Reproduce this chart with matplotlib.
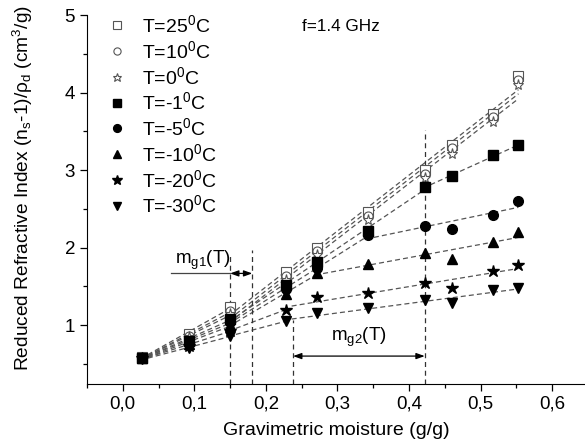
import matplotlib
matplotlib.use("Agg")
import matplotlib.pyplot as plt
import numpy as np
from matplotlib.ticker import MultipleLocator, FuncFormatter

plt.rcParams['font.family'] = ['Liberation Sans', 'DejaVu Sans']
plt.rcParams['mathtext.fontset'] = 'custom'
plt.rcParams['mathtext.rm'] = 'Liberation Sans'
plt.rcParams['mathtext.it'] = 'Liberation Sans:italic'
plt.rcParams['mathtext.default'] = 'regular'

# ---- data ----
moisture = [0.027, 0.093, 0.150, 0.228, 0.272, 0.343, 0.422, 0.460, 0.518, 0.553]
labels = ['T=25$^{0}$C', 'T=10$^{0}$C', 'T=0$^{0}$C', 'T=-1$^{0}$C',
          'T=-5$^{0}$C', 'T=-10$^{0}$C', 'T=-20$^{0}$C', 'T=-30$^{0}$C']
t25 = [0.59, 0.89, 1.23, 1.68, 2.00, 2.46, 3.00, 3.33, 3.73, 4.22]
t10 = [0.58, 0.86, 1.18, 1.63, 1.95, 2.41, 2.95, 3.28, 3.68, 4.16]
t0 = [0.58, 0.84, 1.14, 1.58, 1.90, 2.36, 2.90, 3.21, 3.62, 4.10]
tm1 = [0.58, 0.80, 1.08, 1.52, 1.82, 2.22, 2.78, 2.93, 3.19, 3.32]
tm5 = [0.58, 0.78, 1.04, 1.46, 1.74, 2.16, 2.28, 2.24, 2.42, 2.60]
tm10 = [0.57, 0.76, 1.00, 1.40, 1.67, 1.79, 1.93, 1.85, 2.07, 2.20]
tm20 = [0.57, 0.73, 0.93, 1.20, 1.36, 1.42, 1.54, 1.48, 1.70, 1.77]
tm30 = [0.56, 0.70, 0.86, 1.05, 1.15, 1.22, 1.32, 1.28, 1.45, 1.48]
series = [t25, t10, t0, tm1, tm5, tm10, tm20, tm30]
# index ranges of the linear-fit segments for each series
segments = [
    [(0, 2), (2, 9)],
    [(0, 2), (2, 9)],
    [(0, 2), (2, 9)],
    [(0, 2), (2, 6), (6, 9)],
    [(0, 2), (2, 5), (5, 9)],
    [(0, 2), (2, 4), (4, 9)],
    [(0, 2), (2, 3), (3, 9)],
    [(0, 2), (2, 3), (3, 9)],
]
mg1 = (0.150, 0.181)
mg2 = (0.238, 0.422)

markers = ['s', 'o', '*', 's', 'o', '^', '*', 'v']
filled = [False, False, False, True, True, True, True, True]
msizes = [6.5, 6.5, 8, 6.5, 7, 7, 9, 7.5]

fig = plt.figure(figsize=(5.85, 4.47), dpi=100)
ax = fig.add_axes([0.1487, 0.141, 1 - 0.1487, 0.966 - 0.141])

x = np.array(moisture)
for ys, segs in zip(series, segments):
    y = np.array(ys)
    for a, b in segs:
        xs = x[a:b + 1]
        p = np.polyfit(xs, y[a:b + 1], 1)
        xx = np.array([xs[0] + 0.008, xs[-1]])
        ax.plot(xx, np.polyval(p, xx), ls=(0, (4, 2.5)), color='#555555', lw=0.9, zorder=2)

for ys, lab, m, f, ms in zip(series, labels, markers, filled, msizes):
    if f:
        ax.plot(moisture, ys, ls='none', marker=m, ms=ms, mfc='black', mec='black',
                label=lab, zorder=3)
    else:
        ax.plot(moisture, ys, ls='none', marker=m, ms=ms, mfc='white', mec='#555555',
                mew=0.8, label=lab, zorder=3)

# vertical markers
ax.plot([mg1[0], mg1[0]], [0.24, 1.90], ls=(0, (4, 3)), color='#333333', lw=0.9)
ax.plot([mg1[1], mg1[1]], [0.24, 1.97], ls=(0, (4, 3)), color='#333333', lw=0.9)
ax.plot([mg2[0], mg2[0]], [0.24, 1.06], ls=(0, (4, 3)), color='#333333', lw=0.9)
ax.plot([mg2[1], mg2[1]], [0.24, 3.52], ls=(0, (4, 3)), color='#333333', lw=0.9)

# arrows
ax.plot([0.068, mg1[0]], [1.667, 1.667], color='#444444', lw=0.9)
ax.annotate('', xy=(mg1[1], 1.667), xytext=(mg1[0], 1.667),
            arrowprops=dict(arrowstyle='<|-|>,head_length=0.5,head_width=0.18',
                            color='black', lw=0.9, shrinkA=0, shrinkB=0))
ax.annotate('', xy=(mg2[1], 0.60), xytext=(mg2[0], 0.60),
            arrowprops=dict(arrowstyle='<|-|>,head_length=0.5,head_width=0.18',
                            color='black', lw=0.9, shrinkA=0, shrinkB=0))
ax.text(0.112, 1.84, 'm$_{g1}$(T)', ha='center', va='center', fontsize=13.5)
ax.text(0.330, 0.84, 'm$_{g2}$(T)', ha='center', va='center', fontsize=13.5)
ax.text(0.25, 4.86, 'f=1.4 GHz', ha='left', va='center', fontsize=12.3)

ax.set_xlim(-0.05, 0.646)
ax.set_ylim(0.24, 5)
for s in ['top', 'right']:
    ax.spines[s].set_visible(False)
ax.xaxis.set_major_locator(MultipleLocator(0.1))
ax.xaxis.set_minor_locator(MultipleLocator(0.05))
ax.yaxis.set_major_locator(MultipleLocator(1))
ax.yaxis.set_minor_locator(MultipleLocator(0.5))
ax.xaxis.set_major_formatter(FuncFormatter(lambda v, p: f'{v:.1f}'.replace('.', ',').replace('-0,0', '0,0')))
ax.yaxis.set_major_formatter(FuncFormatter(lambda v, p: f'{v:.0f}'))
ax.tick_params(which='major', direction='out', length=5, width=0.9, labelsize=13.5)
ax.tick_params(which='minor', direction='out', length=3, width=0.9)
ax.set_xlabel('Gravimetric moisture (g/g)', fontsize=14)
ax.set_ylabel('Reduced Refractive Index (n$_s$-1)/ρ$_d$ (cm$^3$/g)', fontsize=13.8)
ax.xaxis.set_label_coords(0.5, -0.102)
ax.yaxis.set_label_coords(-0.105, 0.53)

leg = ax.legend(loc='upper left', bbox_to_anchor=(0.025, 1.024), frameon=False,
                fontsize=14, handletextpad=0.8, labelspacing=0.2, borderaxespad=0,
                handlelength=1.0, markerscale=0.8)

fig.savefig('out.png', dpi=100)
